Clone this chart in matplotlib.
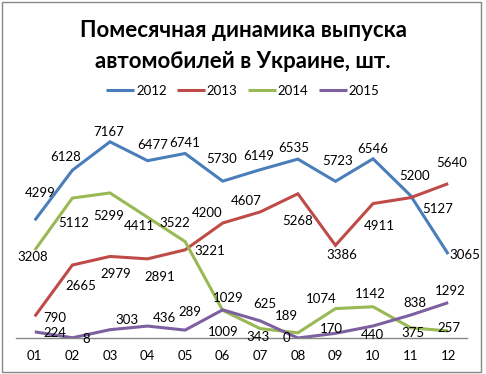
import matplotlib
matplotlib.use("Agg")
import matplotlib.pyplot as plt
from matplotlib.patches import Rectangle

months = ["01", "02", "03", "04", "05", "06", "07", "08", "09", "10", "11", "12"]
y2012 = [4299, 6128, 7167, 6477, 6741, 5730, 6149, 6535, 5723, 6546, 5200, 3065]
y2013 = [790, 2665, 2979, 2891, 3221, 4200, 4607, 5268, 3386, 4911, 5127, 5640]
y2014 = [3208, 5112, 5299, 4411, 3522, 1009, 343, 189, 1074, 1142, 375, 257]
y2015 = [224, 8, 303, 436, 289, 1029, 625, 0, 170, 440, 838, 1292]
series_names = ["2012", "2013", "2014", "2015"]
title = "Помесячная динамика выпуска\nавтомобилей в Украине, шт."

colors = ["#4A7EBB", "#BE4B48", "#98B954", "#7D60A0"]

# label offsets in pixels (dx right, dy down)
off2012 = [(5, -27), (-7, -13), (-1, -10), (5, -16), (0, -10), (-1, -22),
           (-2, -14), (-4, -11), (2, -20), (0, -10), (4, -20), (17, 1)]
off2013 = [(20, 2), (9, 21), (6, 18), (12, 18), (25, 1), (-16, -10),
           (-14, -11), (0, 27), (6, 10), (6, 22), (27, 11), (3, -21)]
off2014 = [(-2, 7), (1, 25), (-1, 23), (-8, 9), (-10, -19), (1, 22),
           (-2, 8), (-11, -17), (-14, -10), (-3, -13), (2, 5), (1, -3)]
off2015 = [(20, 1), (14, 1), (17, -10), (17, -8), (5, -18), (6, -12),
           (5, -17), (-11, 0), (-4, -4), (-1, 9), (4, -12), (2, -12)]

plt.rcParams["font.family"] = ["Lato", "DejaVu Sans"]

W, H = 486, 374
fig = plt.figure(figsize=(W / 100, H / 100), dpi=100)
fig.patch.set_facecolor("white")

# outer border
fig.add_artist(Rectangle((2 / W, 1 - 372 / H), 479 / W, 370 / H,
                         transform=fig.transFigure, fill=False,
                         edgecolor="#868686", linewidth=1.0))

left, right = 16 / W, 467 / W
bottom = 1 - 338 / H
top = 1 - 119 / H
ax = fig.add_axes([left, bottom, right - left, top - bottom])
ax.set_xlim(-0.5, 11.5)
ax.set_ylim(0, 8000)

x = list(range(len(months)))
all_series = [y2012, y2013, y2014, y2015]
all_offs = [off2012, off2013, off2014, off2015]
for name, ys, c, offs in zip(series_names, all_series, colors, all_offs):
    ax.plot(x, ys, color=c, linewidth=2.2, label=name, solid_joinstyle="miter",
            solid_capstyle="butt")
    for xi, yi, (dx, dy) in zip(x, ys, offs):
        ax.annotate(str(yi), (xi, yi), xytext=(dx, -dy), textcoords="offset pixels",
                    ha="center", va="center", fontsize=9.5, color="black")

for s in ["top", "right", "left"]:
    ax.spines[s].set_visible(False)
ax.spines["bottom"].set_color("#868686")
ax.spines["bottom"].set_linewidth(1.0)
ax.set_yticks([])
ax.set_xticks(x)
ax.set_xticklabels(months, fontsize=9.5)
ax.tick_params(axis="x", length=0, pad=9)
ax.patch.set_alpha(0)

fig.text(0.5, 1 - 46 / H, title, ha="center", va="center", fontsize=16,
         fontweight="bold", linespacing=1.55)

handles, labels = ax.get_legend_handles_labels()
fig.legend(handles, labels, ncol=4, loc="center", bbox_to_anchor=(0.5, 1 - 91 / H),
           frameon=False, fontsize=9.5, handlelength=2.1, handletextpad=0.15,
           columnspacing=0.8)

fig.savefig("out.png", dpi=100)
